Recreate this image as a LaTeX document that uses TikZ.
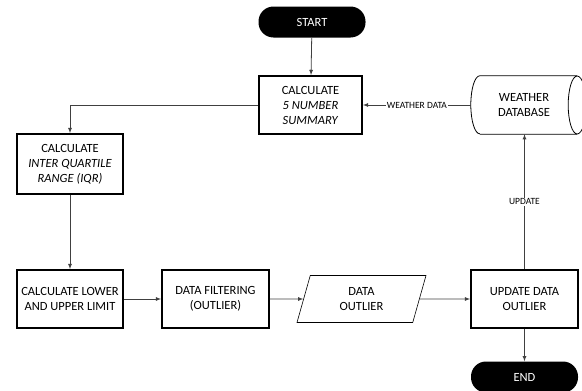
\documentclass[tikz,border=0pt]{standalone}
\usepackage{fontspec}
\setmainfont{Carlito}
\usetikzlibrary{calc}
\usetikzlibrary{arrows}
\usetikzlibrary{shapes.geometric}

\tikzset{
  procbox/.style={draw, line width=1.8pt, minimum width=106pt, minimum height=58pt,
    align=center, inner sep=1pt, font=\fontsize{12.5}{15}\selectfont},
  terminal/.style={fill=black, text=white, rounded corners=15pt, minimum width=107pt,
    minimum height=31pt, font=\fontsize{12.5}{15}\selectfont},
  flow/.style={->, >=latex, draw=black!75, line width=0.8pt},
  flowlabel/.style={fill=white, inner sep=1pt, font=\fontsize{9.5}{11}\selectfont}
}

\begin{document}
\begin{tikzpicture}[x=1pt, y=-1pt]
  \useasboundingbox (0,0) rectangle (582,391);
  \node [terminal] (start) at (312,22) {START};
  \node [procbox, minimum width=103pt] (summary) at (310.5,105) {CALCULATE\\\textit{5 NUMBER}\\\textit{SUMMARY}};
  % database drawn by hand
  \node [minimum width=106pt, minimum height=58pt, align=center, inner sep=0pt,
    font=\fontsize{12.5}{15}\selectfont] (db) at (524,105) {WEATHER\\DATABASE};
  \draw [line width=0.8pt] ($(db.north west)+(9,0)$) -- ($(db.north east)$)
    ($(db.south west)+(9,0)$) -- (db.south east)
    ($(db.north west)+(9,0)$) arc [start angle=90, end angle=270, x radius=9, y radius=-29];
  \draw [line width=0.8pt] (db.east) ellipse [x radius=9, y radius=29];
  \node [procbox, minimum height=60pt] (iqr) at (70,164) {CALCULATE\\\textit{INTER QUARTILE}\\\textit{RANGE (IQR)}};
  \node [procbox] (limit) at (70,299) {CALCULATE LOWER\\AND UPPER LIMIT};
  \node [procbox, minimum width=107pt] (filter) at (215.5,299) {DATA FILTERING\\(OUTLIER)};
  \node [trapezium, draw, line width=0.6pt, trapezium left angle=66, trapezium right angle=114,
    trapezium stretches body, minimum width=129pt, minimum height=47pt, align=center,
    font=\fontsize{12.5}{15}\selectfont] (outlier) at (361.5,299) {DATA\\OUTLIER};
  \node [procbox, minimum width=107pt] (update) at (524.5,299) {UPDATE DATA\\OUTLIER};
  \node [terminal] (stop) at (524.5,377) {END};

  \draw [flow] (db.west) -- node [flowlabel] {WEATHER DATA} (summary.east);
  \draw [flow] (start) -- (summary);
  \draw [flow] (summary.west) -| (iqr.north);
  \draw [flow] (iqr) -- (limit);
  \draw [flow] (limit) -- (filter);
  \draw [flow] (filter) -- (outlier);
  \draw [flow] (outlier) -- (update);
  \draw [flow] (update.north) -- node [flowlabel] {UPDATE} (update.north |- db.south);
  \draw [flow] (update) -- (stop);
\end{tikzpicture}
\end{document}
